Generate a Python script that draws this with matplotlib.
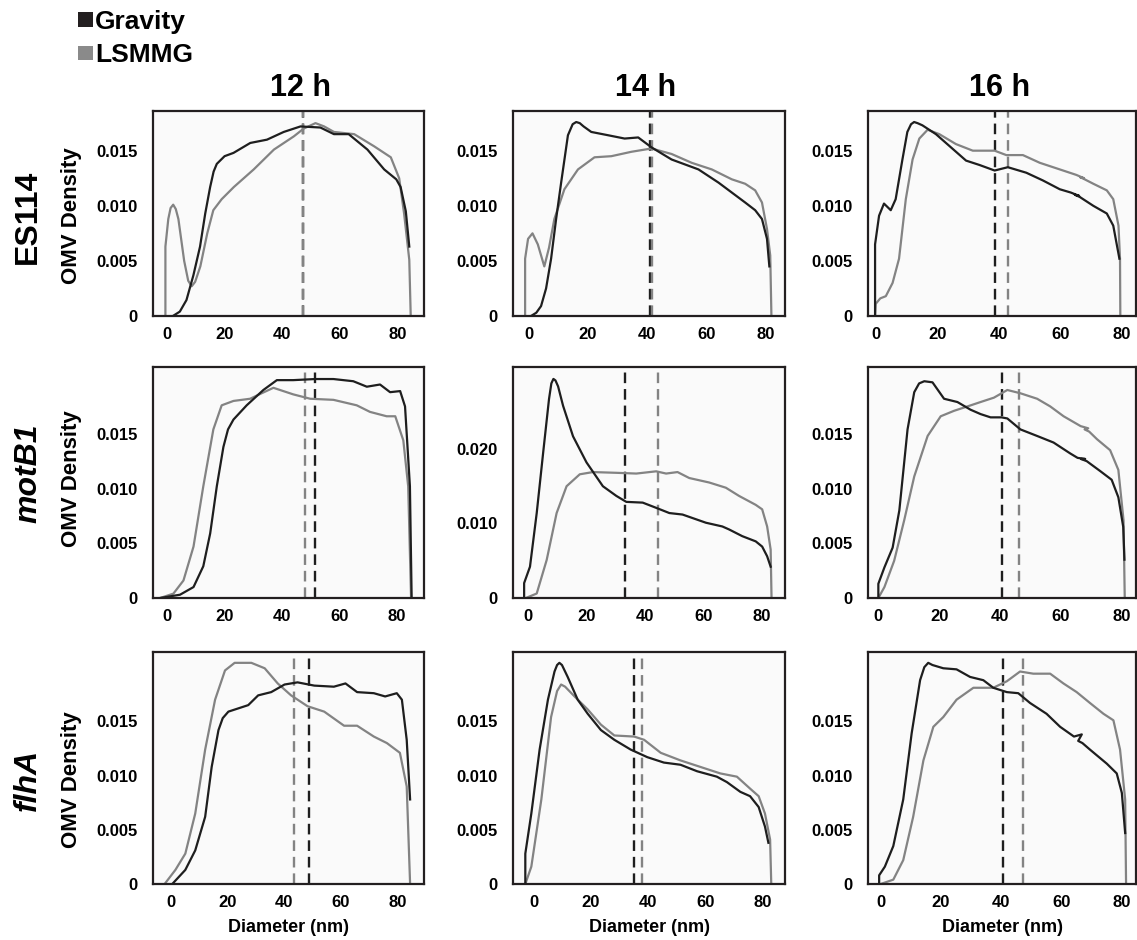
import numpy as np
import matplotlib
matplotlib.use("Agg")
import matplotlib.pyplot as plt
from matplotlib.patches import Rectangle

plt.rcParams['font.family'] = ['Liberation Sans', 'DejaVu Sans']
plt.rcParams['font.weight'] = 'bold'

GRAV_COLOR = '#1e1e1e'
LSMMG_COLOR = '#838383'

times = ['12 h', '14 h', '16 h']
strains = ['ES114', 'motB1', 'flhA']
xticks = [0, 20, 40, 60, 80]

# OMV size density curves: (diameter nm, density)
es114_12h_gravity = [(2.1, 0), (4.5, 0.0004), (6.8, 0.00145), (9.2, 0.0037), (11.5, 0.0063), (13.3, 0.0093),
                     (15, 0.0117), (16.2, 0.0131), (17.3, 0.0138), (20, 0.0145), (23.1, 0.0148), (28.9, 0.0157),
                     (34.7, 0.0160), (40.5, 0.0167), (46.3, 0.0172), (53.2, 0.0171), (57.9, 0.0165), (63, 0.0165),
                     (69.5, 0.0151), (75.3, 0.0133), (79.5, 0.0124), (81, 0.0117), (82.8, 0.0095), (84, 0.0063)]
es114_12h_lsmmg = [(-0.5, 0), (-0.5, 0.0063), (0.5, 0.0088), (1.3, 0.0098), (2.2, 0.0101), (3.1, 0.0097),
                   (4, 0.0088), (6, 0.0050), (7.4, 0.0032), (8.6, 0.0027), (9.8, 0.0031), (11.6, 0.0045),
                   (14, 0.0075), (16.1, 0.0096), (19, 0.0106), (23.2, 0.0117), (30.1, 0.0133), (37.1, 0.0151),
                   (44, 0.0163), (47.4, 0.0170), (51.5, 0.0175), (54.5, 0.0172), (57.9, 0.0167), (64.9, 0.0165),
                   (71.8, 0.0154), (77.6, 0.0144), (80.5, 0.0125), (82.2, 0.0093), (84, 0.0051), (84.5, 0)]
es114_14h_gravity = [(0.7, 0), (2.5, 0.0003), (4.1, 0.0009), (5.8, 0.0025), (7.5, 0.0052), (9.2, 0.0088),
                     (10.9, 0.0121), (13.2, 0.0164), (14.8, 0.0174), (16, 0.0176), (17.2, 0.0175), (18.5, 0.0172),
                     (21.1, 0.0167), (26.8, 0.0164), (32.4, 0.0161), (37, 0.0162), (41.5, 0.0153), (48.3, 0.0142),
                     (57.4, 0.0133), (64.2, 0.0121), (68.7, 0.0112), (73.2, 0.0103), (76.6, 0.0096), (78.9, 0.0088),
                     (80.6, 0.0070), (81.4, 0.0045)]
es114_14h_lsmmg = [(-1.3, 0), (-1.3, 0.0052), (-0.3, 0.0070), (1.2, 0.0075), (3, 0.0065), (5.2, 0.0045),
                   (6.8, 0.0062), (8.6, 0.0088), (12, 0.0115), (16.6, 0.0133), (22.2, 0.0144), (27.9, 0.0145),
                   (34.7, 0.0149), (41.5, 0.0152), (48.3, 0.0147), (55.1, 0.0139), (61.9, 0.0133), (68.7, 0.0124),
                   (73.2, 0.0120), (76.6, 0.0114), (78.9, 0.0103), (80.6, 0.0079), (81.7, 0.0055), (82.1, 0)]
es114_16h_gravity = [(-0.2, 0), (-0.2, 0.0065), (1.1, 0.0091), (2.7, 0.0102), (4.9, 0.0096), (6.5, 0.0106),
                     (8.7, 0.0142), (10.3, 0.0167), (11.5, 0.0174), (12.5, 0.0176), (13.6, 0.0175), (15.2, 0.0173),
                     (19.6, 0.0165), (24.5, 0.0153), (29.4, 0.0141), (33.8, 0.0137), (38.7, 0.0132), (43, 0.0135),
                     (49, 0.0130), (54.4, 0.0123), (59.9, 0.0115), (63.5, 0.0112), (66.2, 0.0109), (64.8, 0.0110),
                     (66.4, 0.0108), (70.8, 0.0100), (75.2, 0.0093), (77.3, 0.0082), (79.3, 0.0052)]
es114_16h_lsmmg = [(-0.2, 0), (0, 0.0011), (1.5, 0.0016), (3.3, 0.0018), (5.5, 0.0030), (7.6, 0.0052),
                   (9.8, 0.0106), (12, 0.0142), (14.2, 0.0161), (16.9, 0.0169), (20.7, 0.0165), (26.1, 0.0156),
                   (31.6, 0.0150), (38.7, 0.0150), (42.5, 0.0146), (47.9, 0.0146), (53.4, 0.0139), (59.9, 0.0133),
                   (65.3, 0.0128), (67.8, 0.0125), (66.5, 0.0126), (68, 0.0124), (70.8, 0.0120), (75.2, 0.0114),
                   (77.3, 0.0106), (79, 0.0082), (79.5, 0.0052), (79.6, 0)]

motb1_12h_gravity = [(-2.3, 0), (4.6, 0.0003), (9.3, 0.0010), (12.7, 0.0029), (15.1, 0.0059), (17.4, 0.0102),
                     (19.7, 0.0138), (21.3, 0.0154), (23.2, 0.0163), (27.8, 0.0176), (33.6, 0.0190), (38.3, 0.0199),
                     (44, 0.0199), (51.6, 0.0200), (58, 0.0200), (64.9, 0.0198), (69.6, 0.0193), (74.2, 0.0195),
                     (77.7, 0.0188), (81.2, 0.0189), (82.9, 0.0175), (84.6, 0.0102), (85.2, 0)]
motb1_12h_lsmmg = [(-2.3, 0), (2.3, 0.0004), (5.8, 0.0016), (9.3, 0.0047), (12.7, 0.0102), (16.2, 0.0154),
                   (19.1, 0.0176), (23.2, 0.0180), (29, 0.0182), (33, 0.0187), (37.1, 0.0192), (44, 0.0186),
                   (49.9, 0.0182), (58, 0.0181), (66.1, 0.0176), (70.7, 0.0170), (76.5, 0.0166), (79.5, 0.0166),
                   (82.3, 0.0144), (84, 0.0102), (85, 0)]
motb1_14h_gravity = [(-1.3, 0), (-1.3, 0.0020), (0.7, 0.0042), (3, 0.0114), (5.2, 0.0195), (7.2, 0.0267),
                     (8.0, 0.0288), (8.7, 0.0294), (9.4, 0.0292), (10.3, 0.0284), (12, 0.0258), (15.4, 0.0217),
                     (20, 0.0182), (25.6, 0.0150), (30.2, 0.0137), (33.6, 0.0129), (39.2, 0.0128), (43.8, 0.0121),
                     (48.3, 0.0114), (52.8, 0.0112), (60.8, 0.0101), (66.4, 0.0096), (68.7, 0.0092), (73.2, 0.0083),
                     (77.8, 0.0076), (80, 0.0069), (81.7, 0.0056), (82.9, 0.0042)]
motb1_14h_lsmmg = [(-0.7, 0), (3, 0.0006), (6.4, 0.0051), (9.8, 0.0114), (13.2, 0.0150), (17.7, 0.0166),
                   (22.2, 0.0169), (30.2, 0.0168), (37, 0.0167), (43.8, 0.0170), (47.2, 0.0167), (51.1, 0.0169),
                   (55.1, 0.0161), (61.9, 0.0155), (67.6, 0.0148), (72.1, 0.0137), (77.8, 0.0125), (80, 0.0119),
                   (81.7, 0.0096), (82.9, 0.0065), (83.2, 0)]
motb1_16h_gravity = [(0, 0), (0, 0.0013), (2, 0.0028), (4.7, 0.0046), (6.9, 0.0080), (9.6, 0.0154), (11.8, 0.0188),
                     (13.4, 0.0196), (15.1, 0.0198), (17.8, 0.0197), (21.6, 0.0182), (26, 0.0179), (30.3, 0.0172),
                     (33.6, 0.0168), (36.9, 0.0165), (40.5, 0.0165), (42.4, 0.0164), (46.7, 0.0154), (52.2, 0.0148),
                     (57.6, 0.0142), (63.1, 0.0132), (65.5, 0.0128), (68, 0.0127), (66.6, 0.0127), (68.5, 0.0125),
                     (72.9, 0.0116), (76.7, 0.0108), (78.9, 0.0092), (80.5, 0.0065), (80.9, 0.0035)]
motb1_16h_lsmmg = [(0, 0), (2, 0.0010), (5.2, 0.0034), (8.5, 0.0071), (11.8, 0.0111), (16.2, 0.0148),
                   (20.5, 0.0166), (24.9, 0.0171), (29.3, 0.0175), (33.6, 0.0179), (38, 0.0183), (42.4, 0.0190),
                   (46.7, 0.0187), (52.2, 0.0182), (56.5, 0.0175), (60.9, 0.0166), (66.5, 0.0157), (69, 0.0155),
                   (67.8, 0.0154), (69.3, 0.0152), (71.9, 0.0145), (76.2, 0.0135), (78.9, 0.0117), (80.6, 0.0071),
                   (81, 0)]

flha_12h_gravity = [(0.6, 0), (5.2, 0.0013), (8.7, 0.0031), (12.2, 0.0062), (14.5, 0.0108), (16.9, 0.0142),
                    (18.4, 0.0153), (20.4, 0.0159), (23.9, 0.0162), (27.4, 0.0165), (30.9, 0.0174), (35.5, 0.0177),
                    (40.2, 0.0184), (44.8, 0.0186), (50.7, 0.0183), (57.6, 0.0182), (61.7, 0.0185), (65.8, 0.0177),
                    (71.7, 0.0176), (75.7, 0.0173), (79.8, 0.0176), (81.6, 0.0170), (83.3, 0.0133), (84.5, 0.0078)]
flha_12h_lsmmg = [(-2.1, 0), (1.7, 0.0013), (5.2, 0.0028), (8.7, 0.0065), (12.2, 0.0124), (15.7, 0.0170),
                  (19.2, 0.0197), (22.6, 0.0204), (28.5, 0.0204), (33.2, 0.0199), (37.8, 0.0185), (42.5, 0.0174),
                  (48.3, 0.0164), (54.2, 0.0159), (61.2, 0.0146), (65.8, 0.0146), (71.7, 0.0136), (76.3, 0.0130),
                  (80.9, 0.0121), (83.3, 0.0090), (84.5, 0)]
flha_14h_gravity = [(-2.9, 0), (-2.9, 0.0028), (-0.8, 0.0065), (2.1, 0.0124), (5, 0.0170), (7.3, 0.0196),
                    (8.2, 0.0202), (9, 0.0204), (9.9, 0.0202), (11.9, 0.0191), (15.4, 0.0170), (18.9, 0.0157),
                    (23.5, 0.0142), (28.2, 0.0133), (33.9, 0.0124), (39.7, 0.0117), (45.5, 0.0112), (51.3, 0.0110),
                    (57.1, 0.0104), (64, 0.0099), (67.5, 0.0094), (72.2, 0.0085), (75.6, 0.0081), (78.6, 0.0071),
                    (80.8, 0.0053), (82, 0.0038)]
flha_14h_lsmmg = [(-2.9, 0), (-0.8, 0.0016), (2.7, 0.0078), (6.1, 0.0154), (8.2, 0.0178), (9.6, 0.0184),
                  (11, 0.0182), (14.3, 0.0173), (18.9, 0.0161), (23.5, 0.0147), (28.2, 0.0137), (35.1, 0.0136),
                  (38.6, 0.0133), (44.4, 0.0121), (51.3, 0.0114), (59.4, 0.0107), (65.2, 0.0102), (71, 0.0099),
                  (75.6, 0.0088), (78.6, 0.0081), (80.8, 0.0065), (82.6, 0.0041), (83, 0)]
flha_16h_gravity = [(-0.5, 0), (-0.5, 0.0008), (1.4, 0.0016), (4.2, 0.0035), (7.5, 0.0078), (10.3, 0.0139),
                    (13.1, 0.0188), (14.5, 0.0200), (15.8, 0.0204), (17.2, 0.0202), (20.8, 0.0199), (25.2, 0.0198),
                    (29.7, 0.0191), (34.1, 0.0188), (37.4, 0.0181), (41.9, 0.0177), (45.7, 0.0176), (49.6, 0.0167),
                    (55.1, 0.0157), (59.6, 0.0145), (64.2, 0.0136), (66.8, 0.0138), (65.6, 0.0132), (67, 0.0130),
                    (69.5, 0.0124), (75.1, 0.0111), (78.4, 0.0102), (80.1, 0.0084), (81.2, 0.0047)]
flha_16h_lsmmg = [(0, 0), (4.2, 0.0004), (7.5, 0.0022), (10.8, 0.0062), (14.2, 0.0114), (17.5, 0.0145),
                  (20.8, 0.0154), (25.2, 0.0170), (30.8, 0.0181), (37.4, 0.0181), (41.9, 0.0187), (46.3, 0.0196),
                  (50.7, 0.0194), (56.3, 0.0194), (60.7, 0.0185), (65.1, 0.0177), (69.5, 0.0167), (74, 0.0157),
                  (77.3, 0.0151), (79.5, 0.0124), (81.2, 0.0078), (81.5, 0)]

# median diameters (dashed lines), 12 h / 14 h / 16 h
gravity_medians = {'ES114': [47.1, 41.1, 38.9], 'motB1': [51.6, 33.2, 40.5], 'flhA': [48.7, 34.9, 40.5]}
lsmmg_medians = {'ES114': [47.1, 41.6, 43.0], 'motB1': [48.1, 44.4, 46.1], 'flhA': [43.5, 37.7, 47.4]}

curves = {
    'ES114': [(es114_12h_gravity, es114_12h_lsmmg), (es114_14h_gravity, es114_14h_lsmmg),
              (es114_16h_gravity, es114_16h_lsmmg)],
    'motB1': [(motb1_12h_gravity, motb1_12h_lsmmg), (motb1_14h_gravity, motb1_14h_lsmmg),
              (motb1_16h_gravity, motb1_16h_lsmmg)],
    'flhA': [(flha_12h_gravity, flha_12h_lsmmg), (flha_14h_gravity, flha_14h_lsmmg),
             (flha_16h_gravity, flha_16h_lsmmg)],
}

W, H = 1137, 940
fig = plt.figure(figsize=(W / 100, H / 100), dpi=100)


def px_box(x0, y0, x1, y1):
    # pixel box (top-left origin) -> figure fraction rect
    return [x0 / W, 1 - y1 / H, (x1 - x0) / W, (y1 - y0) / H]


col_px = [(153, 424), (513, 785), (868, 1136)]
row_px = [(111, 316), (367, 598), (652, 884)]
xlims = [[(-4.8, 89.1), (-5.4, 86.7), (-2.5, 84.7)],
         [(-4.8, 89.5), (-5.1, 87.8), (-3.4, 84.7)],
         [(-6.2, 89.4), (-7.2, 87.8), (-4.2, 84.8)]]
ytops = [[0.0186, 0.0186, 0.0186],
         [0.0211, 0.031, 0.0211],
         [0.0214, 0.0214, 0.0214]]

for r, strain in enumerate(strains):
    for c, t in enumerate(times):
        ax = fig.add_axes(px_box(col_px[c][0], row_px[r][0], col_px[c][1], row_px[r][1]))
        ax.set_facecolor('#fafafa')
        grav, lsm = curves[strain][c]
        gx, gy = zip(*grav)
        lx, ly = zip(*lsm)

        ax.axvline(gravity_medians[strain][c], color=GRAV_COLOR, lw=1.7, dashes=(4.5, 2.5), zorder=1)
        ax.axvline(lsmmg_medians[strain][c], color=LSMMG_COLOR, lw=1.7, dashes=(4.5, 2.5), zorder=1)
        ax.plot(lx, ly, color=LSMMG_COLOR, lw=1.6, zorder=2, solid_joinstyle='round')
        ax.plot(gx, gy, color=GRAV_COLOR, lw=1.6, zorder=3, solid_joinstyle='round')

        ax.set_xlim(*xlims[r][c])
        ax.set_ylim(0, ytops[r][c])
        ax.set_xticks(xticks)
        ax.set_xticklabels([str(v) for v in xticks])
        yt = [0, 0.010, 0.020] if ytops[r][c] > 0.025 else [0, 0.005, 0.010, 0.015]
        ax.set_yticks(yt)
        ax.set_yticklabels(['0' if v == 0 else f'{v:.3f}' for v in yt])
        ax.tick_params(axis='y', length=0, pad=11, labelsize=12)
        ax.tick_params(axis='x', length=0, pad=8, labelsize=12)
        for lab in ax.get_xticklabels() + ax.get_yticklabels():
            lab.set_fontweight('bold')
        for sp in ax.spines.values():
            sp.set_linewidth(1.6)
            sp.set_color('#231f20')

        if r == 2:
            fig.text((col_px[c][0] + col_px[c][1]) / 2 / W, 1 - 928 / H, 'Diameter (nm)',
                     ha='center', va='center', fontsize=13, fontweight='bold')

# column titles
for c, t in enumerate(times):
    fig.text([300, 646, 1000][c] / W, 1 - 88 / H, t, ha='center', va='center', fontsize=22, fontweight='bold')

# row labels and y axis labels
row_label_y = [217, 473, 780]
omv_y = [216, 479, 780]
for r, strain in enumerate(strains):
    fig.text(28 / W, 1 - row_label_y[r] / H, strain, rotation=90, ha='center', va='center', fontsize=23,
             fontweight='bold', fontstyle='normal' if strain == 'ES114' else 'italic')
    fig.text(72 / W, 1 - omv_y[r] / H, 'OMV Density', rotation=90, ha='center', va='center', fontsize=16,
             fontweight='bold')

# legend
fig.patches.append(Rectangle((78 / W, 1 - 27 / H), 15 / W, 15 / H, transform=fig.transFigure,
                             color='#231f20', lw=0))
fig.patches.append(Rectangle((78 / W, 1 - 60 / H), 15 / W, 14 / H, transform=fig.transFigure,
                             color='#8a8a8a', lw=0))
fig.text(95 / W, 1 - 29 / H, 'Gravity', ha='left', va='baseline', fontsize=19, fontweight='bold')
fig.text(95 / W, 1 - 62 / H, 'LSMMG', ha='left', va='baseline', fontsize=19, fontweight='bold')

fig.savefig('out.png', dpi=100)
